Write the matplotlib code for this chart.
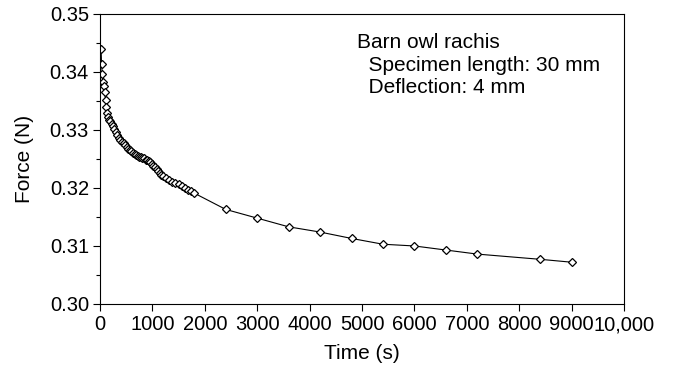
import matplotlib
matplotlib.use("Agg")
import matplotlib.pyplot as plt
from matplotlib.ticker import MultipleLocator, FuncFormatter

plt.rcParams['font.family'] = ['Liberation Sans', 'DejaVu Sans']

# time (s) and force (N)
time_s = [20, 30, 45, 60, 75, 90, 105, 120, 140, 160, 180, 200, 225, 250, 275,
          300, 330, 360, 390, 420, 450, 480, 510, 540, 570, 600, 630, 660, 690,
          720, 750, 780, 810, 840, 870, 900, 930, 960, 990, 1020, 1050, 1080,
          1110, 1140, 1170, 1200, 1260, 1320, 1380, 1440, 1500, 1560, 1620,
          1680, 1740, 1800,
          2400, 3000, 3600, 4200, 4800, 5400, 6000, 6600, 7200, 8400, 9000]
force_n = [0.3440, 0.3413, 0.3396, 0.3382, 0.3375, 0.3366, 0.3352, 0.3340,
           0.3330, 0.3323, 0.3318, 0.3315, 0.3311, 0.3306, 0.3301, 0.3297,
           0.3292, 0.3287, 0.3283, 0.3280, 0.3277, 0.3274, 0.3271, 0.3268,
           0.3266, 0.3264, 0.3261, 0.3259, 0.3257, 0.3255, 0.3254, 0.3253,
           0.3252, 0.3251, 0.3249, 0.3248, 0.3246, 0.3244, 0.3241, 0.3238,
           0.3236, 0.3233, 0.3229, 0.3226, 0.3223, 0.3221, 0.3217, 0.3214,
           0.3211, 0.3209, 0.3206, 0.3203, 0.3200, 0.3197, 0.3194, 0.3191,
           0.3163, 0.3148, 0.3133, 0.3124, 0.3113, 0.3103, 0.3100, 0.3093,
           0.3086, 0.3077, 0.3072]

note_lines = ["Barn owl rachis", "  Specimen length: 30 mm", "  Deflection: 4 mm"]

fs = 15

fig = plt.figure(figsize=(6.73, 3.68), dpi=100)
ax = fig.add_axes([0.1486, 0.174, 0.7786, 0.788])

ax.plot(time_s, force_n, color='black', lw=0.8, marker='D', markersize=4.5,
        markerfacecolor='white', markeredgecolor='black', markeredgewidth=0.9)

ax.set_xlim(0, 10000)
ax.set_ylim(0.30, 0.35)
ax.xaxis.set_major_locator(MultipleLocator(1000))
ax.yaxis.set_major_locator(MultipleLocator(0.01))
ax.yaxis.set_minor_locator(MultipleLocator(0.005))
ax.xaxis.set_major_formatter(FuncFormatter(
    lambda v, p: '10,000' if v >= 10000 else '%d' % v))
ax.yaxis.set_major_formatter(FuncFormatter(lambda v, p: '%.2f' % v))
ax.tick_params(axis='both', which='major', direction='out', length=5,
               width=0.8, labelsize=14.5, pad=3)
ax.tick_params(axis='y', which='minor', direction='out', length=3, width=0.8)
for s in ax.spines.values():
    s.set_linewidth(0.8)

ax.set_xlabel('Time (s)', fontsize=fs, labelpad=7)
ax.set_ylabel('Force (N)', fontsize=fs, labelpad=11)

ys = [0.903, 0.824, 0.745]
for line, y in zip(note_lines, ys):
    ax.text(0.49, y, line, transform=ax.transAxes, fontsize=fs,
            va='center', ha='left')

fig.savefig('out.png', dpi=100)
